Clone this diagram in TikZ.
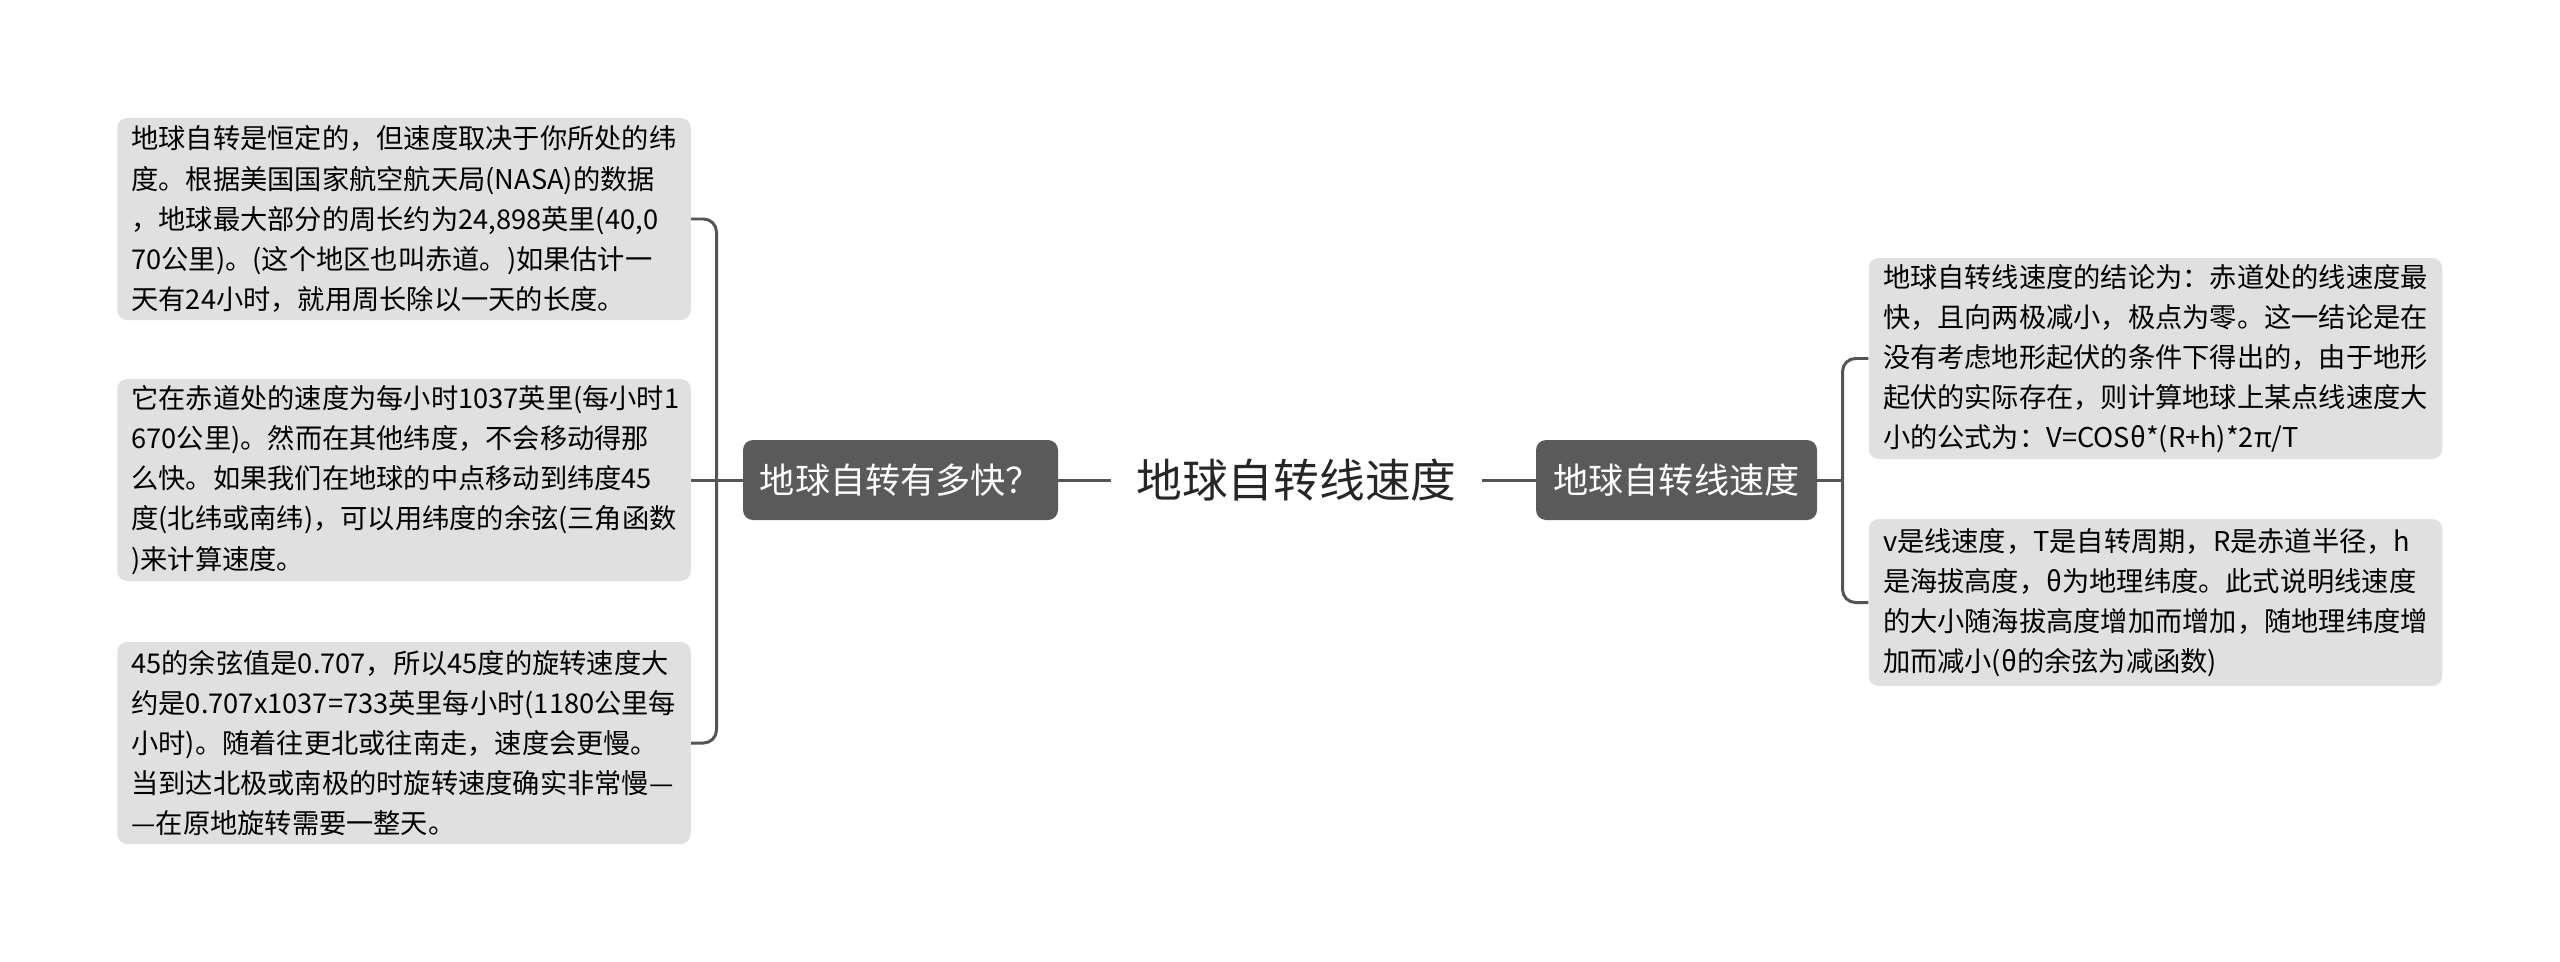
\documentclass[tikz,border=0pt]{standalone}
\usepackage{fontspec}
\setmainfont{Noto Sans CJK SC}
\usepackage{tikz}
\usetikzlibrary{positioning}

\definecolor{leafgray}{RGB}{224,224,224}
\definecolor{branchgray}{RGB}{90,90,90}
\definecolor{linegray}{RGB}{85,85,85}

\begin{document}
\begin{tikzpicture}[
    leafbox/.style={rectangle, fill=leafgray, rounded corners=0.2cm, text width=10.9cm, align=left,
      inner xsep=0.285cm, inner ysep=0.04cm, minimum width=11.47cm, font=\fontsize{15.5}{22.8}\selectfont},
    branchbox/.style={rectangle, fill=branchgray, text=white, rounded corners=0.2cm, minimum height=1.6cm,
      inner sep=0.1cm, font=\fontsize{20}{24}\selectfont},
    rootbox/.style={inner xsep=0.5cm, text=black!85, font=\fontsize{26}{30}\selectfont},
    link/.style={draw=linegray, line width=1.7pt}]
      \useasboundingbox (0,0) rectangle (51.2,-19.22);

      % Centro
      \node (T) at (25.93,-9.6) [rootbox] {地球自转线速度};

      % Rami
      \node (Q) at (18.01,-9.6) [branchbox, minimum width=6.3cm] {地球自转有多快？};
      \node (V) at (33.53,-9.6) [branchbox, minimum width=5.62cm] {地球自转线速度};

      % Foglie a sinistra
      \node (Q1) at (8.08,-4.38) [leafbox, minimum height=4.04cm]
        {地球自转是恒定的，但速度取决于你所处的纬\\度。根据美国国家航空航天局(NASA)的数据\\，地球最大部分的周长约为24,898英里(40,0\\70公里)。(这个地区也叫赤道。)如果估计一\\天有24小时，就用周长除以一天的长度。};
      \node (Q2) at (8.08,-9.6) [leafbox, minimum height=4.04cm]
        {它在赤道处的速度为每小时1037英里(每小时1\\670公里)。然而在其他纬度，不会移动得那\\么快。如果我们在地球的中点移动到纬度45\\度(北纬或南纬)，可以用纬度的余弦(三角函数\\)来计算速度。};
      \node (Q3) at (8.08,-14.86) [leafbox, minimum height=4.04cm]
        {45的余弦值是0.707，所以45度的旋转速度大\\约是0.707x1037=733英里每小时(1180公里每\\小时)。随着往更北或往南走，速度会更慢。\\当到达北极或南极的时旋转速度确实非常慢—\\—在原地旋转需要一整天。};

      % Foglie a destra
      \node (V1) at (43.11,-7.17) [leafbox, minimum height=4.02cm]
        {地球自转线速度的结论为：赤道处的线速度最\\快，且向两极减小，极点为零。这一结论是在\\没有考虑地形起伏的条件下得出的，由于地形\\起伏的实际存在，则计算地球上某点线速度大\\小的公式为：V=COSθ*(R+h)*2π/T};
      \node (V2) at (43.11,-12.05) [leafbox, minimum height=3.34cm]
        {v是线速度，T是自转周期，R是赤道半径，h\\是海拔高度，θ为地理纬度。此式说明线速度\\的大小随海拔高度增加而增加，随地理纬度增\\加而减小(θ的余弦为减函数)};

      % Collegamenti
      \coordinate (lq) at (14.33,-9.6);
      \coordinate (rv) at (36.85,-9.6);
      \draw[link] (Q.east) -- (T.west);
      \draw[link] (T.east) -- (V.west);
      \draw[link] (Q.west) -- (Q2.east);
      \draw[link, rounded corners=0.26cm] (Q1.east) -| (lq) |- (Q3.east);
      \draw[link] (V.east) -- (rv);
      \draw[link, rounded corners=0.26cm] (V1.west) -| (rv) |- (V2.west);
    \end{tikzpicture}
\end{document}
